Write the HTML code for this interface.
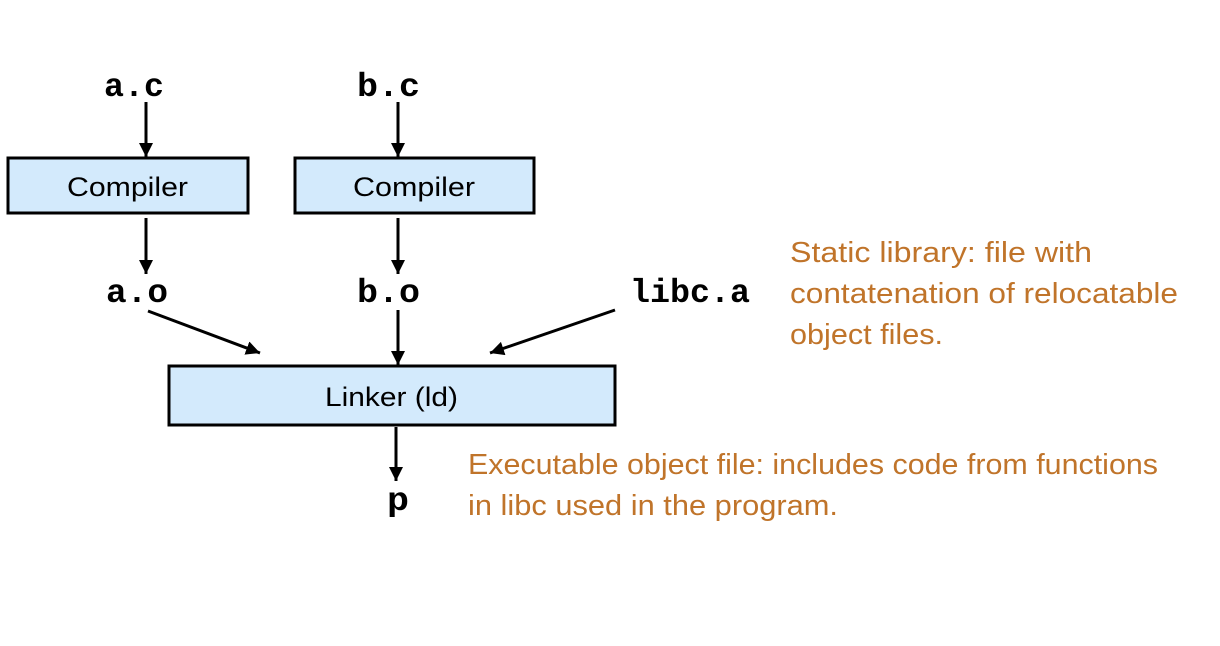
<!DOCTYPE html>
<html><head><meta charset="utf-8"><style>html,body{margin:0;padding:0;background:#fff}svg{display:block}</style></head>
<body>
<svg width="1220" height="646" viewBox="0 0 1220 646" xmlns="http://www.w3.org/2000/svg">
<defs>
<marker id="a2" viewBox="0 0 10 10" markerWidth="14" markerHeight="14" refX="10" refY="5" orient="auto" markerUnits="userSpaceOnUse"><path d="M0,0 L10,5 L0,10 z" fill="#000"/></marker></defs>
<g stroke="#000" stroke-width="3" fill="#d3eafc">
<rect x="8" y="158" width="240" height="55"/>
<rect x="295" y="158" width="239" height="55"/>
<rect x="169" y="366" width="446" height="59"/>
</g>
<g stroke="#000" stroke-width="3" marker-end="url(#a2)">
<line x1="146" y1="102" x2="146" y2="157"/>
<line x1="398" y1="102" x2="398" y2="157"/>
<line x1="146" y1="218" x2="146" y2="274"/>
<line x1="398" y1="218" x2="398" y2="274"/>
<line x1="148" y1="311" x2="260" y2="353"/>
<line x1="398" y1="310" x2="398" y2="365"/>
<line x1="615" y1="310" x2="490" y2="353"/>
<line x1="396" y1="427" x2="396" y2="481"/>
</g>
<g font-family="Liberation Mono, monospace" font-weight="bold" font-size="33" fill="#000" lengthAdjust="spacingAndGlyphs">
<text x="104" y="96" textLength="60" lengthAdjust="spacingAndGlyphs">a.c</text>
<text x="357" y="96" textLength="63" lengthAdjust="spacingAndGlyphs">b.c</text>
<text x="106" y="302" textLength="62" lengthAdjust="spacingAndGlyphs">a.o</text>
<text x="357" y="302" textLength="63" lengthAdjust="spacingAndGlyphs">b.o</text>
<text x="630" y="302" textLength="120" lengthAdjust="spacingAndGlyphs">libc.a</text>
<text x="387" y="510" textLength="22" lengthAdjust="spacingAndGlyphs">p</text>
</g>
<g font-family="Liberation Sans, sans-serif" font-size="27" fill="#000">
<text x="67" y="196" textLength="121" lengthAdjust="spacingAndGlyphs">Compiler</text>
<text x="353" y="196" textLength="122" lengthAdjust="spacingAndGlyphs">Compiler</text>
<text x="325" y="406" textLength="133" lengthAdjust="spacingAndGlyphs">Linker (ld)</text>
</g>
<g font-family="Liberation Sans, sans-serif" font-size="29" fill="#c0742a">
<text x="790" y="262" textLength="302" lengthAdjust="spacingAndGlyphs">Static library: file with</text>
<text x="790" y="303" textLength="388" lengthAdjust="spacingAndGlyphs">contatenation of relocatable</text>
<text x="790" y="344" textLength="153" lengthAdjust="spacingAndGlyphs">object files.</text>
<text x="468" y="474" textLength="690" lengthAdjust="spacingAndGlyphs">Executable object file: includes code from functions</text>
<text x="468" y="515" textLength="370" lengthAdjust="spacingAndGlyphs">in libc used in the program.</text>
</g>
</svg>
</body></html>
